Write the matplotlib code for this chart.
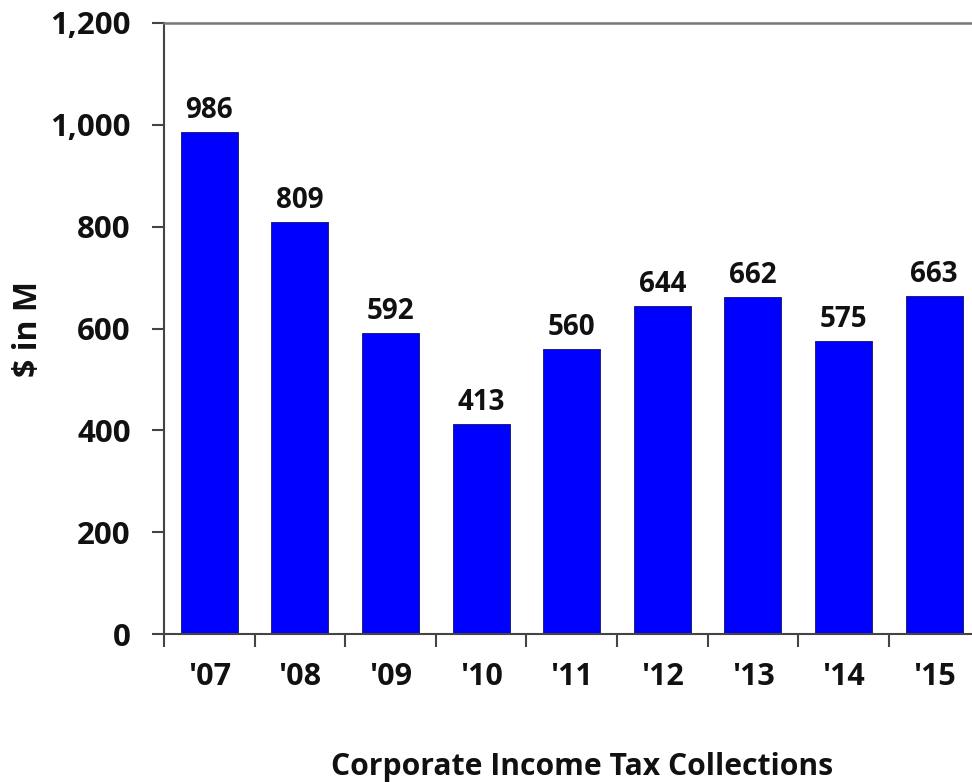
import matplotlib
matplotlib.use("Agg")
import matplotlib.pyplot as plt
from matplotlib.ticker import FuncFormatter, MultipleLocator

years = ["'07", "'08", "'09", "'10", "'11", "'12", "'13", "'14", "'15"]
values = [986, 809, 592, 413, 560, 644, 662, 575, 663]
title = "Corporate Income Tax Collections"
ylabel = "$ in M"

plt.rcParams['font.family'] = ['Open Sans', 'DejaVu Sans']
plt.rcParams['font.weight'] = 'bold'

fig = plt.figure(figsize=(9.72, 7.82), dpi=100)
ax = fig.add_axes([164/972, 1 - 634/782, 815.4/972, (634 - 23)/782])

x = list(range(len(years)))
bars = ax.bar(x, values, width=0.63, color='#0000FF', edgecolor='#10106a', linewidth=0.6, zorder=2)
for xi, v in zip(x, values):
    ax.annotate(f"{v}", (xi, v), xytext=(0, 5), textcoords='offset points',
                ha='center', va='bottom', fontsize=20, fontweight='bold', color='#111111')

ax.set_xlim(-0.5, len(years) - 0.5)
ax.set_ylim(0, 1200)
ax.yaxis.set_major_locator(MultipleLocator(200))
ax.yaxis.set_major_formatter(FuncFormatter(lambda v, p: f"{int(v):,}"))

ax.set_xticks([i - 0.5 for i in range(len(years) + 1)])
ax.set_xticklabels([])
ax.set_xticks(x, minor=True)
ax.set_xticklabels(years, minor=True, fontsize=22, fontweight='bold', color='#111111')
ax.tick_params(axis='x', which='major', length=9, width=1.5, color='#444444', direction='out')
ax.tick_params(axis='x', which='minor', length=0, pad=20)
ax.tick_params(axis='y', length=9, width=1.5, color='#444444', direction='out', pad=15,
               labelsize=22.5, labelcolor='#111111')
for lab in ax.get_yticklabels():
    lab.set_fontweight('bold')

for s in ['left', 'bottom']:
    ax.spines[s].set_color('#444444')
    ax.spines[s].set_linewidth(1.5)
ax.spines['top'].set_color('#777777')
ax.spines['top'].set_linewidth(1.8)
ax.spines['right'].set_visible(False)

fig.text(29/972, 1 - 329/782, ylabel, rotation=90, ha='center', va='center',
         fontsize=23, fontweight='bold', color='#111111')
fig.text(582/972, 1 - 775/782, title, ha='center', va='baseline',
         fontsize=21.7, fontweight='bold', color='#111111')

fig.savefig('out.png', dpi=100)
